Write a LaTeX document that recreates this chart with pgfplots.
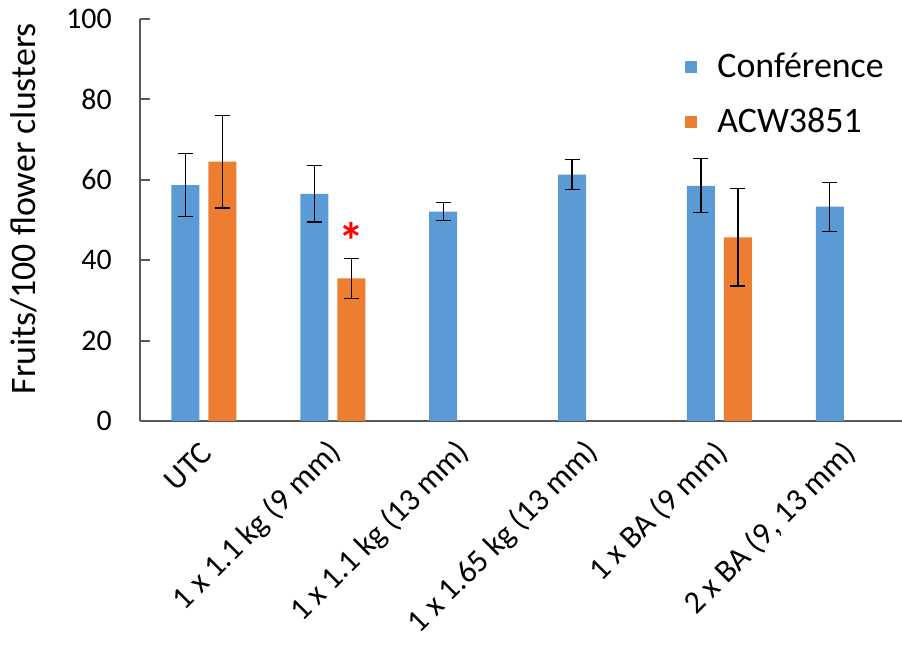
\documentclass[border=0pt]{standalone}
\usepackage{fontspec}
\setmainfont{Carlito}
\usepackage{pgfplots}
\pgfplotsset{compat=1.18}
\definecolor{confblue}{HTML}{5B9BD5}
\definecolor{acworange}{HTML}{ED7D31}
\definecolor{axisgray}{HTML}{595959}
\begin{document}
\begin{tikzpicture}
\useasboundingbox (0,0) rectangle (451bp,323bp);
\begin{axis}[
  at={(69.75bp,112.5bp)}, anchor=south west,
  scale only axis, width=381.5bp, height=201bp,
  xmin=-0.5, xmax=5.42, ymin=0, ymax=100,
  axis x line=bottom, axis y line=left,
  axis line style={axisgray, line width=1bp, -},
  ybar=4.5bp, bar width=14bp,
  xtick={0,...,5},
  xticklabels={UTC, 1 x 1.1 kg (9 mm), 1 x 1.1 kg (13 mm), 1 x 1.65 kg (13 mm), 1 x BA (9 mm), {2 x BA (9, 13 mm)}},
  x tick style={draw=none},
  xticklabel style={xshift=1.5bp, rotate=45, anchor=east, inner sep=0pt, font=\fontsize{16}{19}\selectfont},
  xticklabel shift=13.25bp,
  ytick={0,20,...,100},
  tick align=inside, major tick length=5bp,
  y tick style={axisgray, line width=1bp},
  yticklabel style={anchor=east, inner sep=0pt, xshift=-13.7bp, font=\fontsize{15}{18}\selectfont},
  /pgf/number format/assume math mode=true,
  ylabel={Fruits/100 flower clusters},
  ylabel style={at={(axis description cs:-0.1693,0.528)}, anchor=north, inner sep=0pt, font=\fontsize{18}{21}\selectfont},
  legend style={at={(axis description cs:0.715,0.927)}, anchor=north west, draw=none, fill=none,
    font=\fontsize{18}{21}\selectfont, row sep=10bp, inner sep=0pt,
    /tikz/every odd column/.append style={column sep=8bp}},
  legend cell align=left,
  legend image code/.code={\fill[#1,draw=none] (0bp,-3bp) rectangle (6bp,3bp);},
  error bars/y dir=both, error bars/y explicit,
  error bars/error bar style={black, line width=0.6bp},
  error bars/error mark options={rotate=90, mark size=3.75bp, line width=0.6bp, black},
]
\addplot[fill=confblue, draw=none] coordinates {
  (0,58.7) +- (0,7.8)
  (1,56.5) +- (0,7.0)
  (2,52.1) +- (0,2.3)
  (3,61.3) +- (0,3.7)
  (4,58.5) +- (0,6.7)
  (5,53.3) +- (0,6.1)
};
\addplot[fill=acworange, draw=none] coordinates {
  (0,64.5) +- (0,11.5)
  (1,35.5) +- (0,5.0)
  (4,45.7) +- (0,12.1)
};
\legend{Conférence, ACW3851}
\node[text=red, inner sep=0pt, font=\fontsize{26}{28}\selectfont\bfseries, xshift=9.25bp] at (axis cs:1,44.8) {*};
\end{axis}
\end{tikzpicture}
\end{document}
